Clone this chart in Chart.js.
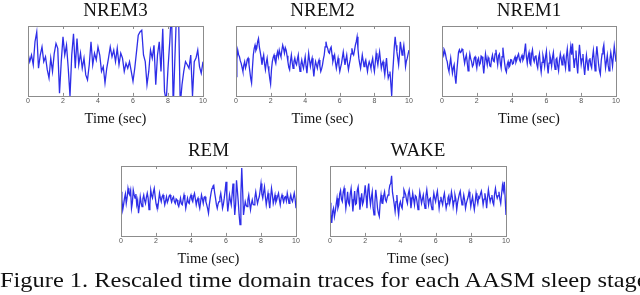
<!DOCTYPE html>
<html>
<head>
<meta charset="utf-8">
<script src="https://cdn.jsdelivr.net/npm/chart.js@4.4.1/dist/chart.umd.min.js"></script>
<style>
  body { margin: 0; background: #fff; width: 640px; height: 295px; overflow: hidden; position: relative; }
  canvas { position: absolute; }
  #caption { position: absolute; left: 0px; top: 267px; font-family: "Liberation Serif", serif; font-size: 22px; color: #111; white-space: nowrap; transform: scaleX(1.11); transform-origin: 0 0; }
</style>
</head>
<body>
<canvas id="c1" width="199" height="128" style="left:16px;top:0px"></canvas>
<canvas id="c2" width="197" height="128" style="left:224px;top:0px"></canvas>
<canvas id="c3" width="198" height="128" style="left:430px;top:0px"></canvas>
<canvas id="c4" width="199" height="128" style="left:109px;top:140px"></canvas>
<canvas id="c5" width="200" height="128" style="left:318px;top:140px"></canvas>
<div id="caption">Figure 1. Rescaled time domain traces for each AASM sleep stage</div>
<script>
// rescaled traces, values in % of the panel half-height
// NREM3 read every 0.1 s, the faster stages every 0.05 s
const slowStep = 0.1;
const fastStep = 0.05;
const xTicks = [0, 2, 4, 6, 8, 10];

const nrem3 = [22,-2,17,-11,55,83,-21,17,40,-2,
  12,-25,-49,8,-30,22,50,36,-92,-2,
  69,17,45,-21,-100,17,78,-21,64,-11,
  22,-21,8,-40,-54,-11,55,-11,22,3,
  40,17,-30,-16,-63,-21,8,40,12,31,
  -2,36,-11,22,8,-30,-7,-21,-2,-30,
  -58,-21,26,74,83,88,17,-2,-68,-30,
  31,8,45,-68,17,55,-30,92,-87,-115,
  -21,55,149,-134,17,158,140,-125,-68,-30,
  -2,-11,-21,17,-100,-2,8,31,-16,-35,-2];

const nrem2 = [-45,5,31,18,12,0,-7,-18,-30,-12,-2,-20,-11,4,8,-10,-30,-50,-63,-20,
  17,35,45,30,36,55,64,40,26,10,-11,5,17,-8,-25,-5,8,-15,-30,-50,
  -66,-25,-2,10,17,2,-7,15,26,12,31,20,12,30,45,35,22,38,31,15,
  -2,-18,-25,0,17,-5,-21,-2,8,-6,-11,5,17,-12,-30,-10,3,-12,-21,-4,
  12,-15,-35,-5,22,2,-16,-2,8,-20,-44,-18,-2,-12,-21,-5,3,-15,-30,-22,
  -11,5,17,40,55,42,36,25,22,35,40,18,-2,8,17,-5,-21,-6,8,-12,
  -30,-18,-7,10,26,6,-11,4,17,-8,-25,-10,3,20,36,22,17,30,45,55,
  69,35,8,-8,-21,-2,17,0,-16,-4,3,-14,-30,-12,-2,-10,-21,-3,8,-15,
  -30,-5,22,4,-11,10,26,2,-21,-8,-2,-22,-40,-14,8,-25,-49,-40,-30,-65,
  -100,-40,-2,40,69,45,26,8,-11,20,55,36,17,30,45,20,-16,0,8,20,
  31];

const nrem1 = [40,28,17,30,20,5,-2,-20,-30,-10,8,-15,-35,-20,-11,-45,-65,-30,-2,25,
  32,24,26,34,30,10,-7,8,17,-5,-28,0,20,6,-2,-16,-11,8,12,-5,
  -20,2,8,-12,-7,14,12,-10,-36,-8,20,4,-11,10,3,-14,-16,6,17,0,
  -2,20,32,8,-11,15,20,-6,-20,12,38,14,-7,-25,-32,-10,-2,-18,-14,4,
  3,-9,-7,6,12,-4,3,14,20,4,-2,10,16,2,8,30,50,12,-7,14,
  24,-6,-11,20,32,6,-2,12,16,-10,-20,8,20,-12,-32,-4,16,4,-15,12,
  28,-10,-36,-6,16,4,-15,10,24,-6,-24,4,8,-14,-28,2,20,6,-11,10,
  16,-4,-20,14,34,2,-28,20,42,18,50,10,-20,6,30,-10,-36,12,46,18,
  -10,6,20,-16,-40,-8,16,-6,-28,2,8,-12,-20,10,30,2,-28,12,42,16,
  -10,-28,-38,0,20,34,46,10,-20,-2,16,-12,-28,4,24,6,-15,14,42,20,
  -2];

const rem = [26,5,-25,-10,8,20,-7,10,36,22,17,30,-21,-5,31,18,8,20,-11,2,
  -35,-15,12,-5,-16,6,17,2,-7,10,22,8,-25,-10,31,15,8,25,36,14,
  -7,-18,-21,0,22,8,-2,12,17,4,-11,0,12,-4,3,14,17,6,-2,8,
  12,-2,-7,6,3,-10,-16,-4,8,-8,-11,4,17,2,-21,-6,8,-4,-7,10,
  17,4,-2,14,22,6,-11,2,8,-10,-21,-2,17,6,-7,10,12,-2,-11,-22,
  -35,-10,8,24,36,42,45,24,8,-10,-21,-8,-2,10,22,4,-21,-10,8,30,
  55,10,-30,-8,17,2,-11,20,50,6,-40,-10,59,30,-2,-40,-68,20,94,30,
  -40,-20,-2,-12,-16,4,17,-6,-25,-8,3,-10,-11,10,26,8,-7,4,12,30,
  50,20,8,25,40,12,-11,6,22,0,-21,10,36,18,-7,4,17,-4,3,14,
  22,4,-11,8,17,6,-2,10,12,0,22,8,-7,6,17,4,-2,10,22,5,
  -21];

const wake = [-5,-40,-63,-30,-21,-45,-30,-10,8,-20,-11,20,30,5,-2,25,36,10,-21,0,
  26,-5,-11,20,36,5,-30,0,28,-10,-7,30,40,10,-25,0,22,-10,-2,20,
  45,15,-21,30,50,12,-11,10,26,-20,-40,-5,32,10,-21,-35,-44,-5,17,-6,
  -7,15,26,4,-2,10,17,30,45,50,72,25,8,-10,-30,-2,17,-20,-40,-10,
  -2,-15,-21,10,32,25,17,2,-7,20,31,10,-21,0,22,5,-11,15,12,-5,
  -25,0,26,10,-7,5,17,-5,-21,15,32,10,-11,5,8,-12,-25,0,22,8,
  -2,15,28,5,-21,0,12,-2,-11,10,22,0,-21,-8,8,15,-7,5,26,10,
  -16,0,17,5,-25,-5,8,20,28,6,-11,0,17,2,-21,-6,3,12,26,8,
  -16,0,12,-8,-25,-4,22,6,-7,12,8,20,28,10,-11,5,22,6,-21,10,
  32,14,-2,8,17,-4,-11,20,36,18,8,15,26,5,-7,20,45,30,55,10,
  -40];

const panels = [
  { id: 'c1', title: 'NREM3', values: nrem3, step: slowStep },
  { id: 'c2', title: 'NREM2', values: nrem2, step: fastStep },
  { id: 'c3', title: 'NREM1', values: nrem1, step: fastStep },
  { id: 'c4', title: 'REM', values: rem, step: fastStep },
  { id: 'c5', title: 'WAKE', values: wake, step: fastStep }
];

// grey box round the plot with small inward ticks, like matplotlib
const frameBox = {
  id: 'frameBox',
  afterDraw(chart) {
    const ctx = chart.ctx;
    const a = chart.chartArea;
    const x = chart.scales.x;
    ctx.save();
    ctx.strokeStyle = '#8c8c8c';
    ctx.lineWidth = 1;
    ctx.strokeRect(Math.round(a.left) + 0.5, Math.round(a.top) + 0.5,
      Math.round(a.right - a.left), Math.round(a.bottom - a.top));
    ctx.beginPath();
    x.ticks.forEach(t => {
      const px = Math.round(x.getPixelForValue(t.value)) + 0.5;
      ctx.moveTo(px, a.top);
      ctx.lineTo(px, a.top + 3);
      ctx.moveTo(px, a.bottom);
      ctx.lineTo(px, a.bottom - 3);
    });
    ctx.stroke();
    ctx.restore();
  }
};

function drawPanel(p) {
  const points = p.values.map((v, i) => ({ x: i * p.step, y: v }));
  new Chart(document.getElementById(p.id), {
    type: 'line',
    data: {
      datasets: [{
        data: points,
        borderColor: '#2e2ee8',
        borderWidth: 1.3,
        pointRadius: 0,
        tension: 0,
        fill: false
      }]
    },
    options: {
      responsive: false,
      animation: false,
      layout: { padding: { left: 12, right: 12, top: 0, bottom: 0 } },
      plugins: {
        legend: { display: false },
        tooltip: { enabled: false },
        title: {
          display: true,
          text: p.title,
          color: '#111',
          font: { family: 'Liberation Serif', size: 19, weight: 'normal' },
          padding: { top: 0, bottom: 3.2 }
        }
      },
      scales: {
        x: {
          type: 'linear',
          min: 0,
          max: 10,
          afterBuildTicks: axis => { axis.ticks = xTicks.map(v => ({ value: v })); },
          ticks: { color: '#555', font: { family: 'Liberation Sans', size: 7 }, padding: 1 },
          grid: { display: false, drawTicks: false },
          border: { display: false },
          title: {
            display: true,
            text: 'Time (sec)',
            color: '#111',
            font: { family: 'Liberation Serif', size: 14.5 },
            padding: { top: 4.3, bottom: 0 }
          }
        },
        y: { display: false, min: -100, max: 100 }
      }
    },
    plugins: [frameBox]
  });
}

panels.forEach(drawPanel);
</script>
</body>
</html>
